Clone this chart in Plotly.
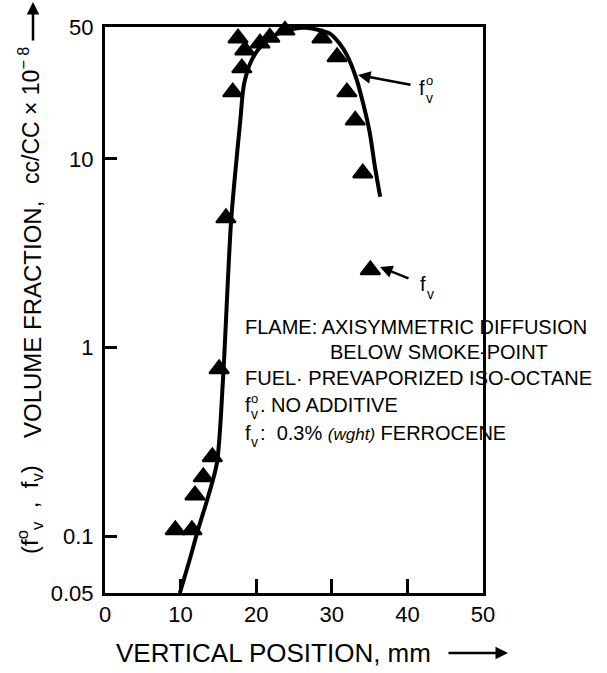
import math
import plotly.graph_objects as go

# ---- data ----
fv0_x = [9.9, 11.2, 12.3, 13.6, 14.8, 15.6, 16.7, 17.9, 18.4, 19.5, 21.0, 23.0, 25.0, 26.5, 28.0, 29.8, 31.0, 32.0, 33.2, 34.1, 35.0, 35.7, 36.4]
fv0_y = [0.05, 0.075, 0.108, 0.16, 0.244, 0.67, 4.8, 16.0, 25.0, 34.0, 41.0, 46.5, 49.0, 49.5, 48.5, 46.0, 41.0, 35.5, 27.0, 20.0, 13.9, 9.1, 6.3]

fv_x = [9.3, 11.5, 11.9, 13.0, 14.2, 15.1, 16.0, 16.9, 17.6, 18.1, 18.5, 20.5, 21.8, 23.8, 26.5, 28.7, 30.7, 32.0, 33.1, 34.1, 35.1]
fv_y = [0.108, 0.108, 0.165, 0.206, 0.263, 0.77, 4.86, 22.6, 43.6, 30.3, 37.7, 41.0, 44.0, 48.0, 53.0, 43.6, 34.7, 22.6, 16.0, 8.4, 2.58]

x_ticks = [0, 10, 20, 30, 40, 50]
y_ticks = [0.05, 0.1, 1, 10, 50]
y_ticktext = ["0.05", "0.1", "1", "10", "50"]
x_range = [0, 50]
y_range = [0.05, 50]

W, H = 607, 673
L, R, T, B = 105, 483, 27, 593
FONT = "Liberation Sans, Arial, Helvetica, sans-serif"
lo, hi = math.log10(y_range[0]), math.log10(y_range[1])


def px(xp):
    return (xp - L) / (R - L)


def py(yp):
    return (B - yp) / (B - T)


fig = go.Figure()
fig.add_trace(go.Scatter(x=fv0_x, y=fv0_y, mode="lines",
                         line=dict(color="black", width=4, shape="spline", smoothing=0.8),
                         showlegend=False, hoverinfo="skip"))
fig.add_trace(go.Scatter(x=fv_x, y=fv_y, mode="markers",
                         marker=dict(symbol="triangle-up", size=17, color="black",
                                     line=dict(color="black", width=2)),
                         cliponaxis=False, showlegend=False))

anns = []


def txt(x, y, s, size=20, xanchor="left", yanchor="middle", angle=0):
    anns.append(dict(x=px(x), y=py(y), xref="paper", yref="paper", text=s, showarrow=False,
                     xanchor=xanchor, yanchor=yanchor, textangle=angle,
                     font=dict(family=FONT, size=size, color="black")))


def arrow(x0, y0, x1, y1, width=2.5, head=2, size=1.0):
    # arrow from tail (x0,y0) to head (x1,y1) in pixels
    anns.append(dict(x=px(x1), y=py(y1), ax=x0 - x1, ay=y0 - y1, xref="paper", yref="paper",
                     axref="pixel", ayref="pixel", text="", showarrow=True,
                     arrowhead=head, arrowwidth=width, arrowsize=size, arrowcolor="black"))


# text block
txt(243, 327, "FLAME: AXISYMMETRIC DIFFUSION")
txt(328, 352, "BELOW SMOKE-POINT")
txt(243, 378, "FUEL· PREVAPORIZED ISO-OCTANE")
txt(243, 405, "f")
txt(249, 398, "o", size=13)
txt(249, 414, "v", size=14)
txt(258, 405, ". NO ADDITIVE")
txt(243, 433, "f")
txt(249, 442, "v", size=14)
txt(258, 433, ":  0.3% <span style='font-size:17px'><i>(wght)</i></span> FERROCENE")

# f_v° arrow label
txt(417, 88, "f")
txt(424, 80, "o", size=13)
txt(424, 98, "v", size=14)
arrow(412, 85, 358, 75)

# f_v arrow label
txt(418, 284, "f")
txt(425, 294, "v", size=14)
arrow(410, 279, 380, 267)

# y title (three rotated pieces)
txt(30, 510, "(f<sup>o</sup><sub>v</sub>  ,  f<sub>v</sub>)", size=24, xanchor="center", angle=-90)
txt(32, 320, "VOLUME FRACTION,", size=24, xanchor="center", angle=-90)
txt(29, 116, "cc/CC × 10<sup>− 8</sup>", size=23, xanchor="center", angle=-90)
arrow(33, 42, 33, 2)

# x title
txt(114, 653, "VERTICAL POSITION, mm", size=26)
arrow(447, 653, 508, 653)

fig.update_layout(
    width=W, height=H,
    margin=dict(l=L, r=W - R, t=T, b=H - B),
    paper_bgcolor="white", plot_bgcolor="white",
    annotations=anns,
    xaxis=dict(range=x_range, tickmode="array", tickvals=x_ticks, ticks="inside", ticklen=14,
               tickwidth=3, tickcolor="black", showline=True, linewidth=3, linecolor="black",
               mirror=True, showgrid=False, zeroline=False,
               tickfont=dict(family=FONT, size=22, color="black")),
    yaxis=dict(type="log", range=[lo, hi], tickmode="array", tickvals=y_ticks, ticktext=y_ticktext,
               ticks="inside", ticklen=12, tickwidth=3, tickcolor="black",
               showline=True, linewidth=3, linecolor="black", mirror=True,
               showgrid=False, zeroline=False, ticklabelstandoff=4,
               tickfont=dict(family=FONT, size=22, color="black")),
)

fig.write_html("out.html")
